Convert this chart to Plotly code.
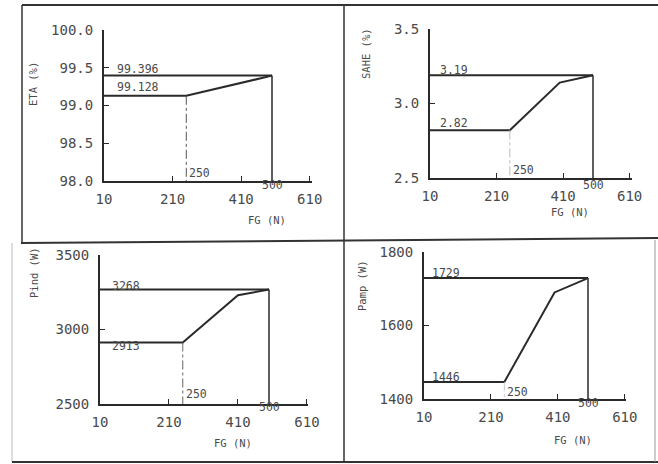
import plotly.graph_objects as go

W, H = 658, 464

# ---------------- data ----------------
fg_ticks = [10, 210, 410, 610]
fg_start, fg_knee, fg_end = 10, 250, 500

eta_hi = 99.396
eta_curve_fg = [10, 250, 500]
eta_curve = [99.128, 99.128, 99.396]
eta_ticks = [98.0, 98.5, 99.0, 99.5, 100.0]
eta_ticktext = ["98.0", "98.5", "99.0", "99.5", "100.0"]

sahe_hi = 3.19
sahe_curve_fg = [10, 250, 400, 500]
sahe_curve = [2.82, 2.82, 3.14, 3.19]
sahe_ticks = [2.5, 3.0, 3.5]
sahe_ticktext = ["2.5", "3.0", "3.5"]

pind_hi = 3268
pind_curve_fg = [10, 250, 410, 500]
pind_curve = [2913, 2913, 3230, 3268]
pind_ticks = [2500, 3000, 3500]
pind_ticktext = ["2500", "3000", "3500"]

pamp_hi = 1729
pamp_curve_fg = [10, 250, 400, 500]
pamp_curve = [1446, 1446, 1690, 1729]
pamp_ticks = [1400, 1600, 1800]
pamp_ticktext = ["1400", "1600", "1800"]

# ---------------- layout helpers ----------------
def xp(px):
    return px / W

def yp(py):
    return 1 - py / H

FONT = "DejaVu Sans Mono"
TXT = "#4a4a4a"
LINE = "#2a2a2a"

panels = [
    dict(hi=eta_hi, cfg=eta_curve_fg, cv=eta_curve, yt=eta_ticks, ytt=eta_ticktext,
         yr=[98.0, 100.0], x10=104, x500=272, xend=312, ybot=181, ytop=30,
         hi_lbl="99.396", lo_lbl="99.128", hi_dy=7, lo_dy=9, lbl_dx=11,
         dash_color="#555", ytitle="ETA (%)", yt_pos=(33, 84), xt_pos=(267, 220),
         knee_dy=8, end_dy=-4),
    dict(hi=sahe_hi, cfg=sahe_curve_fg, cv=sahe_curve, yt=sahe_ticks, ytt=sahe_ticktext,
         yr=[2.5, 3.5], x10=430, x500=593, xend=632, ybot=178, ytop=29,
         hi_lbl="3.19", lo_lbl="2.82", hi_dy=5, lo_dy=7, lbl_dx=8,
         dash_color="#bbb", ytitle="SAHE (%)", yt_pos=(366, 54), xt_pos=(570, 212),
         knee_dy=8, end_dy=-7),
    dict(hi=pind_hi, cfg=pind_curve_fg, cv=pind_curve, yt=pind_ticks, ytt=pind_ticktext,
         yr=[2500, 3500], x10=100, x500=269, xend=308, ybot=404, ytop=255,
         hi_lbl="3268", lo_lbl="2913", hi_dy=4, lo_dy=-4, lbl_dx=10,
         dash_color="#666", ytitle="Pind (W)", yt_pos=(34, 273), xt_pos=(233, 443),
         knee_dy=10, end_dy=-3),
    dict(hi=pamp_hi, cfg=pamp_curve_fg, cv=pamp_curve, yt=pamp_ticks, ytt=pamp_ticktext,
         yr=[1400, 1800], x10=424, x500=588, xend=626, ybot=399, ytop=252,
         hi_lbl="1729", lo_lbl="1446", hi_dy=5, lo_dy=5, lbl_dx=6,
         dash_color="#ccc", ytitle="Pamp (W)", yt_pos=(362, 286), xt_pos=(573, 440),
         knee_dy=7, end_dy=-4),
]

fig = go.Figure()
annotations = []
layout_axes = {}

for i, p in enumerate(panels, start=1):
    xa = "x" if i == 1 else f"x{i}"
    ya = "y" if i == 1 else f"y{i}"
    scale = (p["x500"] - p["x10"]) / (fg_end - fg_start)
    xmax = fg_start + (p["xend"] - p["x10"]) / scale
    ymin = p["yr"][0]

    fig.add_trace(go.Scatter(x=[fg_start, fg_end], y=[p["hi"], p["hi"]], mode="lines",
                             line=dict(color=LINE, width=2), xaxis=xa, yaxis=ya,
                             showlegend=False, hoverinfo="skip"))
    fig.add_trace(go.Scatter(x=p["cfg"], y=p["cv"], mode="lines",
                             line=dict(color=LINE, width=2), xaxis=xa, yaxis=ya,
                             showlegend=False, hoverinfo="skip"))
    fig.add_trace(go.Scatter(x=[fg_end, fg_end], y=[p["hi"], ymin], mode="lines",
                             line=dict(color=LINE, width=1.5), xaxis=xa, yaxis=ya,
                             showlegend=False, hoverinfo="skip"))
    fig.add_trace(go.Scatter(x=[fg_knee, fg_knee], y=[p["cv"][0], ymin], mode="lines",
                             line=dict(color=p["dash_color"], width=1, dash="dashdot"),
                             xaxis=xa, yaxis=ya, showlegend=False, hoverinfo="skip"))

    axis_common = dict(showline=True, linecolor=LINE, linewidth=2, showgrid=False,
                       zeroline=False, ticks="inside", ticklen=5, tickcolor=LINE,
                       automargin=False,
                       tickfont=dict(family=FONT, size=14, color=TXT), fixedrange=True)
    layout_axes["xaxis" if i == 1 else f"xaxis{i}"] = dict(
        axis_common, domain=[xp(p["x10"]), xp(p["xend"])], range=[fg_start, xmax],
        tickvals=fg_ticks, ticktext=[str(t) for t in fg_ticks], anchor=ya,
        ticklabelstandoff=4)
    layout_axes["yaxis" if i == 1 else f"yaxis{i}"] = dict(
        axis_common, domain=[yp(p["ybot"]), yp(p["ytop"])], range=p["yr"],
        tickvals=p["yt"], ticktext=p["ytt"], anchor=xa, ticklabelstandoff=6)

    lbl_font = dict(family=FONT, size=11.5, color=TXT)
    annotations += [
        dict(x=fg_start, y=p["hi"], xref=xa, yref=ya, text=p["hi_lbl"], showarrow=False,
             xanchor="left", yanchor="middle", xshift=p["lbl_dx"], yshift=p["hi_dy"],
             font=lbl_font),
        dict(x=fg_start, y=p["cv"][0], xref=xa, yref=ya, text=p["lo_lbl"], showarrow=False,
             xanchor="left", yanchor="middle", xshift=p["lbl_dx"], yshift=p["lo_dy"],
             font=lbl_font),
        dict(x=fg_knee, y=ymin, xref=xa, yref=ya, text=str(fg_knee), showarrow=False,
             xanchor="left", yanchor="middle", xshift=1, yshift=p["knee_dy"], font=lbl_font),
        dict(x=fg_end, y=ymin, xref=xa, yref=ya, text=str(fg_end), showarrow=False,
             xanchor="center", yanchor="middle", yshift=p["end_dy"], font=lbl_font),
        dict(x=xp(p["yt_pos"][0]), y=yp(p["yt_pos"][1]), xref="paper", yref="paper",
             text=p["ytitle"], showarrow=False, textangle=-90, xanchor="center",
             yanchor="middle", font=dict(family=FONT, size=10.5, color=TXT)),
        dict(x=xp(p["xt_pos"][0]), y=yp(p["xt_pos"][1]), xref="paper", yref="paper",
             text="FG (N)", showarrow=False, xanchor="center", yanchor="middle",
             font=dict(family=FONT, size=10.5, color=TXT)),
    ]

def seg(x0, y0, x1, y1, color="#333", width=2):
    return dict(type="line", xref="paper", yref="paper", x0=xp(x0), y0=yp(y0),
                x1=xp(x1), y1=yp(y1), line=dict(color=color, width=width))

shapes = [
    seg(22, 5, 658, 5),
    seg(22, 5, 22, 243, width=1.5),
    seg(21, 243, 658, 238),
    seg(344, 5, 344, 462, width=1.5),
    seg(12, 243, 12, 462, color="#bbb", width=1),
    seg(12, 462, 658, 462),
    seg(655, 240, 655, 462, color="#999", width=1),
]

fig.update_layout(
    template="none",
    width=W, height=H, margin=dict(l=0, r=0, t=0, b=0, pad=0, autoexpand=False),
    paper_bgcolor="white", plot_bgcolor="rgba(0,0,0,0)",
    showlegend=False, annotations=annotations, shapes=shapes,
    **layout_axes,
)

fig.write_html(
    "out.html",
    config={"displayModeBar": False, "staticPlot": True},
    post_script="document.body.style.margin='0';document.body.style.overflow='hidden';",
)
